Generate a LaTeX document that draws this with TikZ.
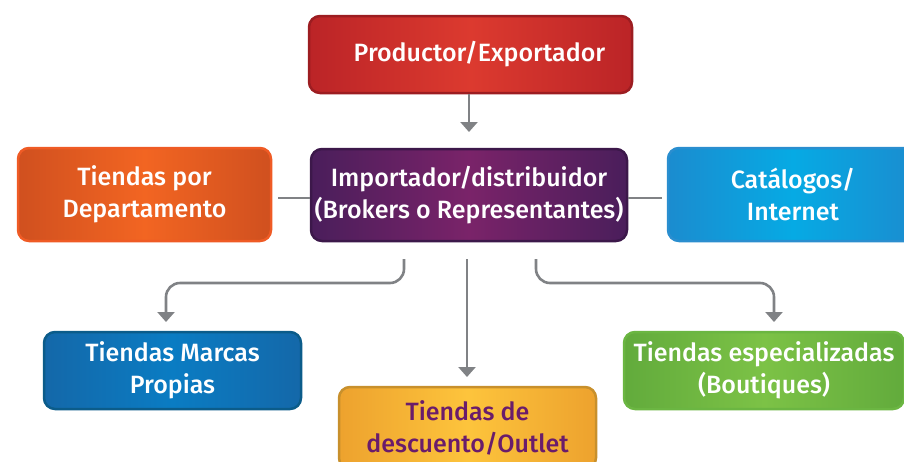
\documentclass[tikz,border=0pt]{standalone}
\usepackage{fontspec}
\setmainfont{Fira Sans Medium}
\usetikzlibrary{arrows.meta,calc}
\definecolor{linegray}{HTML}{808285}
\definecolor{redE}{HTML}{BB2427}\definecolor{redC}{HTML}{DC3A2F}\definecolor{redB}{HTML}{9C1D21}
\definecolor{purE}{HTML}{4A1E5B}\definecolor{purC}{HTML}{7A2369}\definecolor{purB}{HTML}{3C184A}
\definecolor{orE}{HTML}{D0501F}\definecolor{orC}{HTML}{F26522}\definecolor{orB}{HTML}{EF5B25}
\definecolor{cyE}{HTML}{1B8CCF}\definecolor{cyC}{HTML}{06AAE4}\definecolor{cyB}{HTML}{2A8ECF}
\definecolor{blE}{HTML}{1468A9}\definecolor{blC}{HTML}{0A7CC3}\definecolor{blB}{HTML}{0B5C8A}
\definecolor{yeE}{HTML}{EDA22E}\definecolor{yeC}{HTML}{FDC43C}\definecolor{yeB}{HTML}{C8902C}
\definecolor{grE}{HTML}{62AB3C}\definecolor{grC}{HTML}{7CC246}\definecolor{grB}{HTML}{6BB642}
\definecolor{txtpur}{HTML}{6A1C6B}
\begin{document}
\begin{tikzpicture}[x=1pt,y=-1pt,
  box/.style={rounded corners=11pt, line width=2.5pt, align=center, inner sep=0pt,
    text=white, font=\fontsize{25}{32}\selectfont},
  conn/.style={draw=linegray, line width=2.6pt, rounded corners=14pt},
  arr/.style={conn, -{Triangle[width=17pt,length=10pt]}}]
\useasboundingbox (0,0) rectangle (904,461);
\clip (0,0) rectangle (904,461);
\node[box, draw=redB, left color=redE, right color=redE, middle color=redC,
  minimum width=323pt, minimum height=77pt] (prod) at (470.5,54.5) {\hspace*{18pt}Productor/Exportador};
\node[box, draw=purB, left color=purE, right color=purE, middle color=purC,
  minimum width=316pt, minimum height=92pt] (imp) at (469,195) {Importador/distribuidor\\(Brokers o Representantes)};
\node[box, draw=orB, left color=orE, right color=orE, middle color=orC,
  minimum width=253pt, minimum height=93pt] (dep) at (144.5,194.5) {Tiendas por\\Departamento};
\node[box, draw=cyB, left color=cyE, right color=cyE, middle color=cyC,
  minimum width=250pt, minimum height=93pt] (cat) at (793,194.5) {Catálogos/\\Internet};
\node[box, draw=blB, left color=blE, right color=blE, middle color=blC,
  minimum width=257pt, minimum height=77pt] (mar) at (172.5,370.5) {Tiendas Marcas\\Propias};
\node[box, draw=yeB, left color=yeE, right color=yeE, middle color=yeC, text=txtpur,
  minimum width=257pt, minimum height=82pt] (des) at (467.5,428) {Tiendas de\\descuento/Outlet};
\node[box, draw=grB, left color=grE, right color=grE, middle color=grC,
  minimum width=280pt, minimum height=77pt] (esp) at (764,370.5) {Tiendas especializadas\\(Boutiques)};
% connectors
\coordinate (a1) at (469,132);
\draw[arr] (prod.south -| a1) -- (a1);
\coordinate (l1) at (278,198);
\draw[conn] (l1) -- (l1 -| imp.west);
\coordinate (r1) at (662,198);
\draw[conn] (r1 -| imp.east) -- (r1);
\coordinate (s1) at (404,259);
\coordinate (t1) at (166,322);
\draw[arr] (s1) -- (404,283) -- (166,283) -- (t1);
\coordinate (s2) at (467,259);
\coordinate (t2) at (467,377);
\draw[arr] (s2) -- (t2);
\coordinate (s3) at (536,259);
\coordinate (t3) at (774,322);
\draw[arr] (s3) -- (536,283) -- (774,283) -- (t3);
\end{tikzpicture}
\end{document}
